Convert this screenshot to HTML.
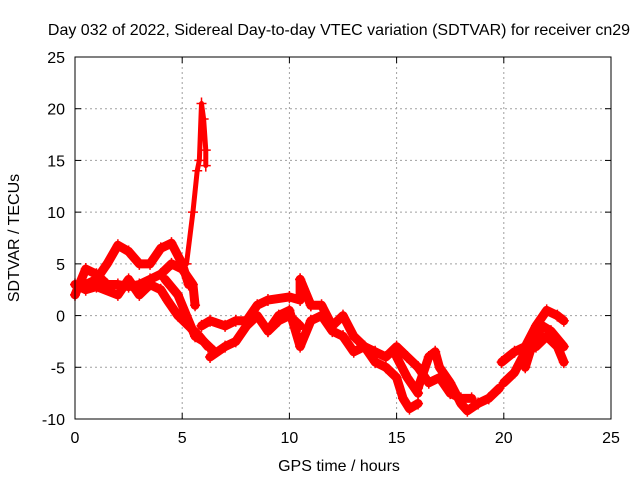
<!DOCTYPE html>
<html><head><meta charset="utf-8"><style>
body{margin:0;background:#fff}
svg{display:block;font-family:"Liberation Sans",sans-serif;font-size:16px}
</style></head><body>
<svg id="chart" width="640" height="480">
<rect width="640" height="480" fill="#fff"/>
<text x="339" y="35" text-anchor="middle">Day 032 of 2022, Sidereal Day-to-day VTEC variation (SDTVAR) for receiver cn29</text>
<text x="339" y="471" text-anchor="middle">GPS time / hours</text>
<text transform="translate(19,238) rotate(-90)" text-anchor="middle">SDTVAR / TECUs</text>
<g id="grid"></g><g id="ticks"></g><g id="marks"></g>
<rect x="75" y="57" width="536" height="362" fill="none" stroke="#000"/>
</svg>
<script>
const xTicks=[0,5,10,15,20,25];
const yTicks=[-10,-5,0,5,10,15,20,25];
const trackA_t=[0.5,1,1.5,2,2.5,3,3.5,4,4.5,5,5.3];
const trackA_v=[3,3.5,5,6.8,6.2,5,5,6.5,7,5,3];
const trackB_t=[0,0.5,1,1.5,2,2.5,3,3.5,4,4.5,5,5.5,5.6];
const trackB_v=[2,4.5,4,3,3,2.8,3,3.5,4,5,4.5,3,1];
const trackC_t=[0,0.5,1,2,2.5,3,3.5,4,4.3,4.8,5.3,5.8,6.2];
const trackC_v=[3,2.5,2.8,2,3.5,2,3,2.5,1.5,0,-1,-2,-3];
const trackD_t=[4.2,4.8,5.2,5.6,6,6.5];
const trackD_v=[3.5,2,0,-2,-2.5,-3.5];
const spike_t=[5.2,5.5,5.7,5.8,5.9,6.0,6.1,6.1];
const spike_v=[5,10,14,15,20.5,19,16,14.5];
const trackE_t=[6.3,7,7.5,8,8.5,9,9.5,10,10.5];
const trackE_v=[-4,-3,-2.5,-1,0,-1.5,-0.5,0,-1];
const trackF_t=[5.9,6.3,7,7.5,8,8.5,9,10,10.5,10.5,11];
const trackF_v=[-1,-0.5,-1,-0.5,-0.5,1,1.5,1.8,1.5,3.5,1];
const trackG_t=[9,9.5,10,10.5,11,11.5,12,12.5];
const trackG_v=[-1.5,0,0.5,-3,-0.5,0,-1.5,-2];
const trackH_t=[10.5,11,11.5,12,12.5,13,13.5,14,14.5,15,15.5,16];
const trackH_v=[3.5,1,1,-1,0,-2,-3,-3.5,-4,-3,-4,-5];
const trackI_t=[12.5,13,13.5,14,14.5,15,15.3,15.6,16];
const trackI_v=[-2,-3.5,-3,-4.5,-5,-6,-8,-9,-8.5];
const trackJ_t=[15,15.5,16];
const trackJ_v=[-4,-6,-7.5];
const trackK_t=[16,16.5,16.8,17,17.5,18,18.3,18.8,19.3,19.8];
const trackK_v=[-7,-4,-3.5,-5,-6.5,-8.5,-9.2,-8.5,-8,-7];
const trackL_t=[16,16.5,17,17.5,18,18.5];
const trackL_v=[-5,-6.5,-6,-7.5,-8,-8];
const trackM_t=[19.9,20.5,21,21.5,22,22.5,22.8];
const trackM_v=[-4.5,-3.5,-3,-1,0.5,0,-0.5];
const trackN_t=[20,20.5,21,21.5,22,22.5,22.8];
const trackN_v=[-6.5,-5.5,-3.5,-3,-2,-3,-4.5];
const trackO_t=[21,21.3,21.8,22.2,22.8];
const trackO_v=[-5,-3,-1,-1.5,-3];
const tracks=[[trackA_t,trackA_v],[trackB_t,trackB_v],[trackC_t,trackC_v],[trackD_t,trackD_v],[spike_t,spike_v],[trackE_t,trackE_v],[trackF_t,trackF_v],[trackG_t,trackG_v],[trackH_t,trackH_v],[trackI_t,trackI_v],[trackJ_t,trackJ_v],[trackK_t,trackK_v],[trackL_t,trackL_v],[trackM_t,trackM_v],[trackN_t,trackN_v],[trackO_t,trackO_v]];
const X=t=>75+t*536/25;
const Y=v=>419-(v+10)*362/35;
const NS="http://www.w3.org/2000/svg";
function mk(tag,parent,attrs){const e=document.createElementNS(NS,tag);for(const k in attrs)e.setAttribute(k,attrs[k]);parent.appendChild(e);return e;}
const grid=document.getElementById('grid'),ticks=document.getElementById('ticks'),marks=document.getElementById('marks');
xTicks.forEach(t=>{
  const x=X(t);
  if(t>0&&t<25){const g=mk('line',grid,{x1:x,x2:x,y1:57,y2:419,stroke:'#a0a0a0','stroke-dasharray':'2,3'});
  
  }
  mk('line',ticks,{x1:x,x2:x,y1:419,y2:413,stroke:'#000'});
  mk('line',ticks,{x1:x,x2:x,y1:57,y2:63,stroke:'#000'});
  const l=mk('text',ticks,{x:x,y:443,'text-anchor':'middle'});l.textContent=t;
  
  
});
yTicks.forEach(v=>{
  const y=Y(v);
  if(v>-10&&v<25){const g=mk('line',grid,{x1:75,x2:611,y1:y,y2:y,stroke:'#a0a0a0','stroke-dasharray':'2,3'});
  
  }
  mk('line',ticks,{x1:75,x2:81,y1:y,y2:y,stroke:'#000'});
  mk('line',ticks,{x1:611,x2:605,y1:y,y2:y,stroke:'#000'});
  const l=mk('text',ticks,{x:65,y:y+6,'text-anchor':'end'});l.textContent=v;
  
  
});
tracks.forEach(([ts,vs],i)=>{
  const pts=ts.map((t,j)=>X(t)+','+Y(vs[j])).join(' ');
  const p=mk('polyline',marks,{points:pts,fill:'none',stroke:'#f00','stroke-width':i===4?5:9,'stroke-linejoin':'round','stroke-linecap':'round'});
  
  
  ts.forEach((t,j)=>{
    const x=X(t),y=Y(vs[j]);
    const m=mk('path',marks,{d:`M${x-5},${y}H${x+5}M${x},${y-6}V${y+6}`,stroke:'#f00','stroke-width':1.5});
    
    
  });
});
</script>
</body></html>
